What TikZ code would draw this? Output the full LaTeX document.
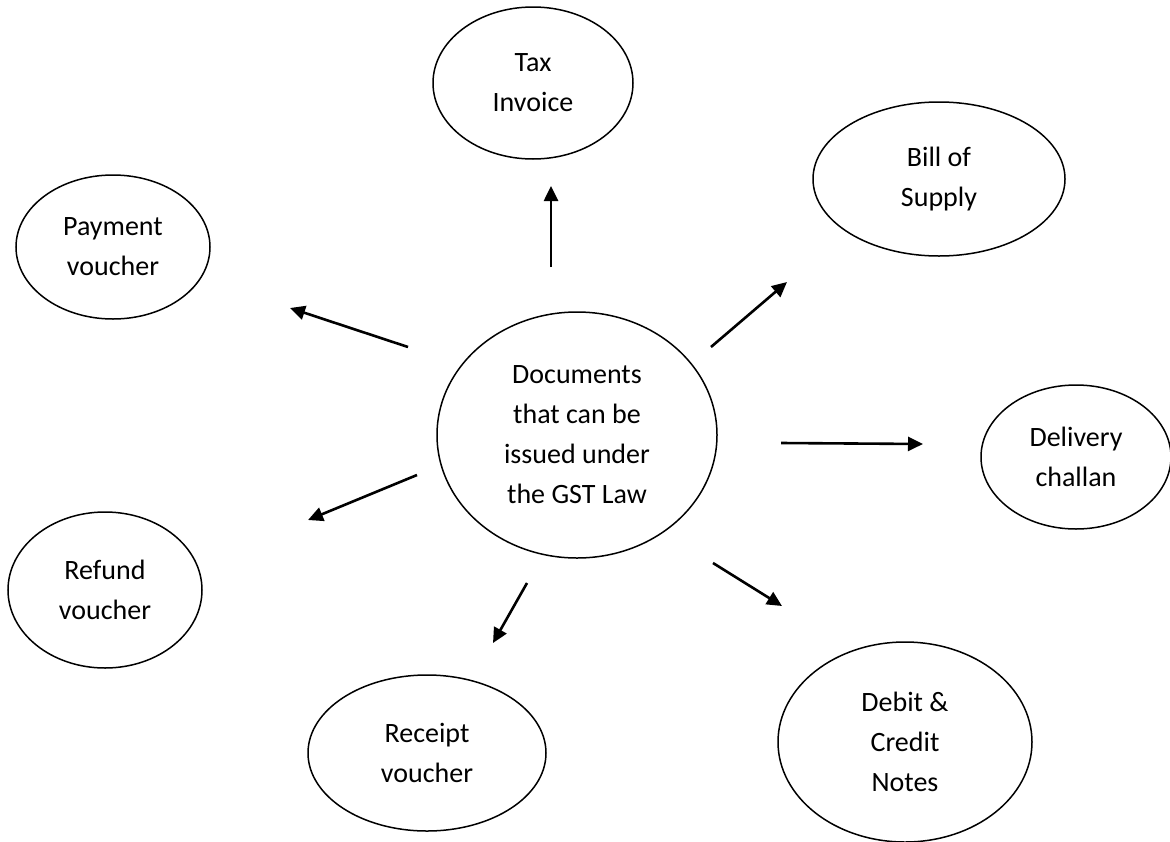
\documentclass[tikz,border=0pt]{standalone}
\usepackage{fontspec}
\setmainfont{Carlito}
\usetikzlibrary{shapes.geometric,arrows.meta,positioning}

\begin{document}
\begin{tikzpicture}[x=1pt,y=-1pt,inner sep=0pt,font=\fontsize{28}{40}\selectfont]
\tikzstyle{main}=[ellipse, draw=black, line width=1.5pt, align=center]
\tikzstyle{connect}=[-{Triangle[length=15pt,width=14pt]}, line width=2.6pt]
\useasboundingbox (0,0) rectangle (1170,841);
% central node
\node[main,minimum width=280pt,minimum height=246pt] (doc) at (577,435) {Documents\\that can be\\issued under\\the GST Law};
% the documents
\node[main,minimum width=200pt,minimum height=152pt] (tax) at (533,83) {Tax\\Invoice};
\node[main,minimum width=252pt,minimum height=154pt] (bill) at (939,179) {Bill of\\Supply};
\node[main,minimum width=194pt,minimum height=144pt] (pay) at (113,247) {Payment\\voucher};
\node[main,minimum width=190pt,minimum height=144pt] (deliv) at (1076,457) {Delivery\\challan};
\node[main,minimum width=194pt,minimum height=156pt] (refund) at (105,590) {Refund\\voucher};
\node[main,minimum width=238pt,minimum height=156pt] (receipt) at (427,753) {Receipt\\voucher};
\node[main,minimum width=254pt,minimum height=200pt] (debit) at (905,742) {Debit \&\\Credit\\Notes};
% arrow ends
\coordinate (taxS) at (551,267);
\coordinate (taxE) at (551,186);
\coordinate (billS) at (711,347);
\coordinate (billE) at (787,282);
\coordinate (payS) at (408,347);
\coordinate (payE) at (290,308);
\coordinate (delivS) at (781,443);
\coordinate (delivE) at (923,444);
\coordinate (refundS) at (417,475);
\coordinate (refundE) at (308,520);
\coordinate (receiptS) at (527,583);
\coordinate (receiptE) at (493,643);
\coordinate (debitS) at (713,563);
\coordinate (debitE) at (782,606);
\path (taxS) edge[connect] (taxE);
\path (billS) edge[connect] (billE);
\path (payS) edge[connect] (payE);
\path (delivS) edge[connect] (delivE);
\path (refundS) edge[connect] (refundE);
\path (receiptS) edge[connect] (receiptE);
\path (debitS) edge[connect] (debitE);
\end{tikzpicture}
\end{document}
